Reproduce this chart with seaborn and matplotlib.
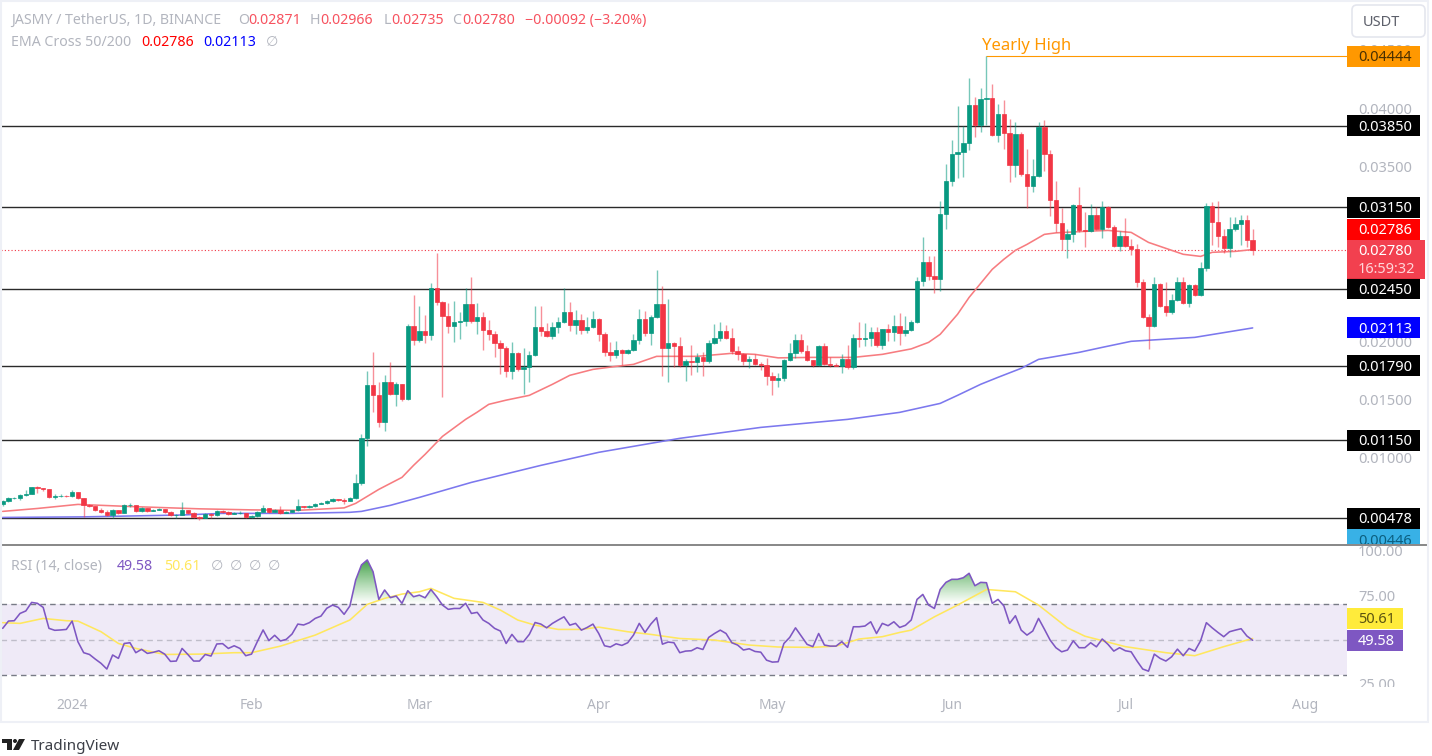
import numpy as np
import pandas as pd
import matplotlib
matplotlib.use("Agg")
import matplotlib.pyplot as plt
from matplotlib.colors import LinearSegmentedColormap
from matplotlib.patches import Rectangle, Circle, Polygon, FancyBboxPatch
from matplotlib.path import Path
from matplotlib.ticker import FormatStrFormatter
from matplotlib.transforms import IdentityTransform, Bbox
import seaborn as sns

WIDTH, HEIGHT = 1432, 756
GREEN = "#089981"
RED = "#f23645"
SOFT_RED = "#f7525f"
GREY = "#b2b5be"
PURPLE = "#7e57c2"
YELLOW = "#ffe75e"
ORANGE = "#ff9800"

start_date = "2023-12-20"
first_open = 0.00598

close = [
    0.00624, 0.00650, 0.00654, 0.00676, 0.00684, 0.00744, 0.00740, 0.00727, 0.00658, 0.00667,
    0.00671, 0.00667, 0.00701, 0.00650, 0.00590, 0.00581, 0.00547, 0.00530, 0.00504, 0.00547,
    0.00521, 0.00590, 0.00594, 0.00538, 0.00564, 0.00538, 0.00547, 0.00555, 0.00530, 0.00504,
    0.00504, 0.00547, 0.00521, 0.00487, 0.00482, 0.00513, 0.00504, 0.00538, 0.00534, 0.00513,
    0.00525, 0.00525, 0.00487, 0.00495, 0.00530, 0.00564, 0.00530, 0.00547, 0.00521, 0.00534,
    0.00547, 0.00581, 0.00573, 0.00581, 0.00598, 0.00607, 0.00624, 0.00641, 0.00633, 0.00624,
    0.00650, 0.00779, 0.01165, 0.01620, 0.01534, 0.01302, 0.01646, 0.01543, 0.01629, 0.01500,
    0.02126, 0.02006, 0.02084, 0.02049, 0.02453, 0.02332, 0.02212, 0.02126, 0.02161, 0.02169,
    0.02315, 0.02169, 0.02204, 0.02092, 0.02058, 0.01981, 0.01938, 0.01740, 0.01895, 0.01757,
    0.01775, 0.01878, 0.02118, 0.02084, 0.02041, 0.02118, 0.02161, 0.02247, 0.02135, 0.02178,
    0.02092, 0.02118, 0.02187, 0.02058, 0.01903, 0.01878, 0.01921, 0.01895, 0.01921, 0.02006,
    0.02187, 0.02066, 0.02204, 0.02315, 0.01938, 0.01981, 0.01955, 0.01792, 0.01826, 0.01817,
    0.01860, 0.01826, 0.01981, 0.02023, 0.02084, 0.02023, 0.01912, 0.01886, 0.01826, 0.01843,
    0.01800, 0.01792, 0.01697, 0.01663, 0.01680, 0.01834, 0.01895, 0.02006, 0.01912, 0.01834,
    0.01792, 0.01955, 0.01800, 0.01792, 0.01787, 0.01843, 0.01775, 0.02023, 0.02019, 0.02023,
    0.02075, 0.01963, 0.02101, 0.02075, 0.02126, 0.02066, 0.02092, 0.02161, 0.02513, 0.02676,
    0.02556, 0.02530, 0.03088, 0.03371, 0.03603, 0.03620, 0.03697, 0.04023, 0.03852, 0.04076,
    0.04085, 0.03768, 0.03948, 0.03785, 0.03512, 0.03777, 0.03431, 0.03328, 0.03414, 0.03835,
    0.03603, 0.03209, 0.03011, 0.02873, 0.02916, 0.03165, 0.02950, 0.02942, 0.03079, 0.02959,
    0.03148, 0.02976, 0.02813, 0.02899, 0.02813, 0.02788, 0.02504, 0.02204, 0.02126, 0.02487,
    0.02298, 0.02247, 0.02350, 0.02504, 0.02324, 0.02478, 0.02393, 0.02624, 0.03157, 0.03019,
    0.02899, 0.02796, 0.02959, 0.03002, 0.03036, 0.02871, 0.02780,
]
high = [
    0.00633, 0.00658, 0.00658, 0.00684, 0.00718, 0.00744, 0.00753, 0.00736, 0.00727, 0.00684,
    0.00684, 0.00676, 0.00718, 0.00701, 0.00650, 0.00598, 0.00581, 0.00564, 0.00547, 0.00555,
    0.00547, 0.00598, 0.00607, 0.00590, 0.00573, 0.00564, 0.00555, 0.00564, 0.00555, 0.00538,
    0.00513, 0.00616, 0.00547, 0.00530, 0.00495, 0.00521, 0.00521, 0.00547, 0.00547, 0.00538,
    0.00530, 0.00538, 0.00521, 0.00504, 0.00538, 0.00590, 0.00564, 0.00555, 0.00581, 0.00538,
    0.00551, 0.00641, 0.00581, 0.00590, 0.00607, 0.00615, 0.00633, 0.00650, 0.00641, 0.00650,
    0.00658, 0.00856, 0.01199, 0.01740, 0.01903, 0.01646, 0.01706, 0.01817, 0.01646, 0.01629,
    0.02144, 0.02393, 0.02298, 0.02221, 0.02496, 0.02753, 0.02341, 0.02324, 0.02341, 0.02247,
    0.02453, 0.02547, 0.02324, 0.02247, 0.02178, 0.02084, 0.02006, 0.01955, 0.01989, 0.01903,
    0.01938, 0.01912, 0.02298, 0.02298, 0.02152, 0.02161, 0.02204, 0.02453, 0.02332, 0.02264,
    0.02230, 0.02204, 0.02255, 0.02195, 0.02075, 0.01989, 0.01998, 0.01929, 0.01929, 0.02058,
    0.02272, 0.02255, 0.02221, 0.02607, 0.02470, 0.02358, 0.01989, 0.02032, 0.01843, 0.01963,
    0.01895, 0.01903, 0.02006, 0.02144, 0.02161, 0.02135, 0.02109, 0.01955, 0.01895, 0.01869,
    0.01886, 0.01817, 0.01852, 0.01732, 0.01723, 0.01843, 0.01981, 0.02058, 0.02058, 0.01963,
    0.01834, 0.01963, 0.01981, 0.01860, 0.01809, 0.01886, 0.01963, 0.02058, 0.02161, 0.02152,
    0.02118, 0.02118, 0.02101, 0.02144, 0.02221, 0.02238, 0.02212, 0.02178, 0.02547, 0.02890,
    0.02727, 0.02727, 0.03199, 0.03517, 0.03723, 0.04015, 0.03843, 0.04255, 0.04092, 0.04169,
    0.04444, 0.04204, 0.04032, 0.04066, 0.03904, 0.03878, 0.03792, 0.03646, 0.03560, 0.03878,
    0.03895, 0.03637, 0.03371, 0.03139, 0.02959, 0.03174, 0.03320, 0.03105, 0.03174, 0.03148,
    0.03199, 0.03157, 0.02993, 0.02942, 0.03053, 0.02873, 0.02830, 0.02530, 0.02230, 0.02547,
    0.02496, 0.02504, 0.02401, 0.02547, 0.02547, 0.02487, 0.02487, 0.02676, 0.03182, 0.03191,
    0.03199, 0.02959, 0.03062, 0.03062, 0.03079, 0.03079, 0.02966,
]
low = [
    0.00581, 0.00615, 0.00641, 0.00633, 0.00667, 0.00684, 0.00693, 0.00710, 0.00650, 0.00641,
    0.00658, 0.00658, 0.00658, 0.00641, 0.00487, 0.00573, 0.00538, 0.00521, 0.00495, 0.00478,
    0.00513, 0.00521, 0.00573, 0.00530, 0.00530, 0.00530, 0.00538, 0.00547, 0.00521, 0.00495,
    0.00478, 0.00504, 0.00513, 0.00478, 0.00460, 0.00478, 0.00478, 0.00495, 0.00521, 0.00504,
    0.00513, 0.00513, 0.00478, 0.00478, 0.00487, 0.00530, 0.00521, 0.00530, 0.00513, 0.00525,
    0.00530, 0.00538, 0.00564, 0.00564, 0.00573, 0.00598, 0.00598, 0.00615, 0.00624, 0.00598,
    0.00624, 0.00641, 0.00761, 0.01096, 0.01388, 0.01259, 0.01225, 0.01534, 0.01440, 0.01483,
    0.01491, 0.01963, 0.01989, 0.01981, 0.02006, 0.02307, 0.01517, 0.02066, 0.01989, 0.02015,
    0.02126, 0.02152, 0.02058, 0.01921, 0.02006, 0.01860, 0.01714, 0.01689, 0.01671, 0.01740,
    0.01543, 0.01646, 0.01869, 0.02041, 0.02032, 0.02015, 0.02066, 0.02152, 0.02084, 0.02058,
    0.02058, 0.02066, 0.02109, 0.01998, 0.01869, 0.01826, 0.01852, 0.01792, 0.01886, 0.01912,
    0.01972, 0.02041, 0.01963, 0.02195, 0.01697, 0.01646, 0.01775, 0.01775, 0.01654, 0.01706,
    0.01732, 0.01697, 0.01809, 0.01972, 0.01998, 0.02015, 0.01886, 0.01834, 0.01792, 0.01766,
    0.01792, 0.01749, 0.01620, 0.01534, 0.01603, 0.01654, 0.01826, 0.01852, 0.01895, 0.01826,
    0.01775, 0.01783, 0.01792, 0.01775, 0.01783, 0.01723, 0.01757, 0.01757, 0.01946, 0.01955,
    0.01955, 0.01946, 0.01929, 0.01998, 0.01998, 0.01963, 0.02041, 0.02084, 0.02152, 0.02470,
    0.02522, 0.02410, 0.02427, 0.02959, 0.03328, 0.03397, 0.03405, 0.03637, 0.03749, 0.03792,
    0.03852, 0.03758, 0.03706, 0.03646, 0.03363, 0.03405, 0.03414, 0.03139, 0.03277, 0.03405,
    0.03457, 0.03071, 0.02933, 0.02779, 0.02710, 0.02847, 0.02933, 0.02804, 0.02933, 0.02950,
    0.02882, 0.02967, 0.02804, 0.02770, 0.02804, 0.02736, 0.02461, 0.02195, 0.01929, 0.02118,
    0.02289, 0.02212, 0.02230, 0.02341, 0.02315, 0.02289, 0.02384, 0.02384, 0.02599, 0.02821,
    0.02804, 0.02753, 0.02719, 0.02942, 0.02821, 0.02804, 0.02735,
]

ema50_days = [0, 6, 13, 22, 34, 43, 51, 59, 61, 65, 69, 71, 73, 76, 78, 80, 82, 84, 87, 91, 95, 98, 102,
              106, 109, 113, 120, 126, 130, 134, 140, 147, 152, 157, 160, 162, 165, 167, 170, 171, 173,
              175, 177, 180, 182, 187, 191, 195, 198, 201, 204, 207, 209, 213, 216]
ema50 = [0.00538, 0.00563, 0.00598, 0.00580, 0.00560, 0.00551, 0.00547, 0.00568, 0.00607, 0.00727,
         0.00830, 0.00933, 0.01028, 0.01182, 0.01255, 0.01328, 0.01390, 0.01457, 0.01493, 0.01534,
         0.01629, 0.01706, 0.01757, 0.01783, 0.01800, 0.01869, 0.01869, 0.01895, 0.01886, 0.01856,
         0.01860, 0.01860, 0.01886, 0.01933, 0.01989, 0.02058, 0.02230, 0.02375, 0.02556, 0.02616,
         0.02702, 0.02779, 0.02830, 0.02916, 0.02929, 0.02942, 0.02950, 0.02933, 0.02847, 0.02796,
         0.02745, 0.02727, 0.02762, 0.02770, 0.02786]
ema200_days = [0, 14, 31, 38, 50, 60, 62, 67, 72, 81, 93, 103, 117, 131, 146, 155, 162, 165, 169, 172,
               176, 179, 183, 186, 190, 195, 206, 216]
ema200 = [0.00486, 0.00491, 0.00507, 0.00521, 0.00521, 0.00530, 0.00538, 0.00590, 0.00658, 0.00787,
          0.00933, 0.01045, 0.01165, 0.01259, 0.01328, 0.01388, 0.01465, 0.01534, 0.01629, 0.01689,
          0.01766, 0.01843, 0.01877, 0.01903, 0.01946, 0.01998, 0.02032, 0.02113]

levels = [0.0385, 0.0315, 0.0245, 0.0179, 0.0115, 0.00478]
yearly_high = 0.04444
yearly_high_day = 170
last_price = 0.0278
price_ticks = [0.01, 0.015, 0.02, 0.035, 0.04, 0.045]

rsi = [
    56.3, 60.4, 60.6, 64.7, 66.1, 70.9, 70.4, 68.1, 56.3, 55.2,
    55.4, 55.7, 60.4, 48.8, 42.6, 41.6, 39.0, 36.6, 33.4, 41.3,
    39.4, 47.8, 48.2, 42.6, 44.5, 42.2, 42.8, 43.7, 41.8, 37.7,
    37.9, 45.0, 41.6, 37.9, 37.9, 41.6, 40.7, 47.5, 47.7, 45.0,
    46.5, 45.0, 40.9, 41.8, 48.8, 55.4, 49.4, 52.4, 49.2, 50.1,
    53.1, 58.7, 58.2, 59.5, 61.9, 63.2, 67.6, 69.4, 68.1, 64.2,
    68.9, 83.5, 92.0, 94.8, 88.2, 72.6, 77.9, 73.6, 74.5, 70.4,
    77.5, 74.1, 75.0, 73.5, 78.2, 74.1, 69.4, 67.0, 67.5, 67.5,
    70.4, 64.7, 65.3, 61.0, 59.1, 56.3, 54.8, 47.8, 52.9, 48.8,
    48.8, 52.9, 59.6, 58.7, 56.6, 59.1, 61.0, 62.8, 58.1, 59.1,
    55.3, 56.8, 58.7, 53.4, 46.5, 45.8, 47.6, 46.7, 48.2, 52.5,
    59.1, 54.0, 58.7, 62.3, 47.4, 48.6, 48.2, 42.6, 43.5, 43.7,
    45.4, 44.4, 51.2, 53.4, 55.3, 53.4, 48.2, 46.9, 44.1, 44.8,
    43.3, 42.9, 38.4, 37.3, 37.5, 47.8, 51.2, 56.6, 51.9, 47.3,
    46.0, 53.4, 46.9, 46.3, 46.3, 48.8, 45.6, 57.2, 57.2, 57.6,
    60.0, 53.4, 59.1, 57.8, 60.0, 56.8, 58.0, 61.0, 72.6, 75.4,
    69.4, 67.5, 78.2, 82.2, 83.9, 83.9, 84.8, 87.3, 80.3, 82.2,
    82.0, 70.4, 72.6, 69.0, 59.1, 63.4, 55.3, 52.5, 54.8, 61.9,
    55.9, 49.7, 45.4, 43.1, 44.1, 49.3, 45.4, 45.4, 48.2, 45.9,
    50.3, 47.3, 43.5, 45.4, 43.7, 43.1, 38.0, 33.4, 32.2, 41.8,
    39.4, 37.9, 40.3, 44.6, 40.9, 45.0, 43.5, 49.3, 59.5, 56.6,
    54.0, 51.6, 54.4, 55.3, 56.1, 52.0, 49.58,
]
rsi_ma_days = [0, 3, 7, 11, 13, 17, 20, 23, 28, 34, 40, 43, 48, 54, 58, 60, 63, 66, 69, 72, 74, 76,
               78, 83, 86, 89, 92, 96, 100, 103, 108, 112, 117, 123, 129, 134, 140, 144, 148, 152,
               155, 157, 161, 165, 170, 175, 179, 184, 187, 194, 201, 206, 211, 216]
rsi_ma = [59.5, 59.1, 61.9, 60.6, 60.4, 54.4, 47.8, 45.0, 41.6, 41.8, 42.6, 42.6, 46.3, 52.5, 58.2,
          61.0, 69.8, 73.2, 75.6, 76.9, 78.8, 76.0, 73.2, 70.9, 66.6, 61.0, 58.1, 55.7, 55.7, 57.0,
          54.4, 52.9, 50.6, 49.7, 46.9, 45.8, 45.6, 46.3, 50.3, 51.6, 54.0, 55.3, 62.8, 69.4, 78.2,
          76.9, 69.4, 56.6, 51.9, 46.0, 42.6, 40.9, 46.0, 50.61]
rsi_ticks = [25, 75, 100]

month_labels = ["2024", "Feb", "Mar", "Apr", "May", "Jun", "Jul", "Aug"]
month_dates = ["2024-01-01", "2024-02-01", "2024-03-01", "2024-04-01",
               "2024-05-01", "2024-06-01", "2024-07-01", "2024-08-01"]

sns.set_theme(style="white")
plt.rcParams["font.family"] = ["Noto Sans", "DejaVu Sans"]

df = pd.DataFrame({"close": close, "high": high, "low": low, "rsi": rsi})
df["open"] = df["close"].shift(1).fillna(first_open)
df["date"] = pd.date_range(start_date, periods=len(df), freq="D")
df["day"] = (df["date"] - df["date"].iloc[0]).dt.days
df["high"] = df[["high", "open", "close"]].max(axis=1)
df["low"] = df[["low", "open", "close"]].min(axis=1)
df["color"] = np.where(df["close"] >= df["open"], GREEN, RED)


def box(left, top, right, bottom):
    # pixel box, measured from the top left, to figure fractions
    return [left / WIDTH, 1 - bottom / HEIGHT, (right - left) / WIDTH, (bottom - top) / HEIGHT]


fig = plt.figure(figsize=(WIDTH / 100, HEIGHT / 100), dpi=100, facecolor="white")
ax = fig.add_axes(box(1, 2, 1347, 545))
ax_rsi = fig.add_axes(box(1, 547, 1347, 690))

x_limits = (-0.29, 232.3)
ax.set_xlim(x_limits)
ax.set_ylim(0.04 - (545 - 108.1) / 11649, 0.04 + (108.1 - 2) / 11649)
ax_rsi.set_xlim(x_limits)
ax_rsi.set_ylim(21.6, 102.1)

# main pane
for level in levels:
    ax.axhline(level, color="#2a2a2a", linewidth=1.0, zorder=1.5)
ax.hlines(yearly_high, yearly_high_day, x_limits[1], color=ORANGE, linewidth=0.8, zorder=1.5)
ax.axhline(last_price, color=RED, linewidth=0.8, linestyle=(0, (1, 2)), zorder=1.5)

sns.lineplot(x=ema50_days, y=ema50, ax=ax, color="#f77c80", linewidth=1.15, estimator=None, zorder=2)
sns.lineplot(x=ema200_days, y=ema200, ax=ax, color="#7c78ee", linewidth=1.15, estimator=None, zorder=2)

ax.vlines(df["day"], df["low"], df["high"], colors=df["color"], linewidth=1.0, alpha=0.55, zorder=3)
ax.bar(df["day"], df["close"] - df["open"], bottom=df["open"], width=0.76,
       color=df["color"], edgecolor=df["color"], linewidth=0.5, zorder=4)

ax.yaxis.tick_right()
ax.set_yticks(price_ticks)
ax.yaxis.set_major_formatter(FormatStrFormatter("%.5f"))
ax.tick_params(axis="y", length=0, pad=8, labelsize=10.5, labelcolor=GREY)
ax.set_xticks([])
ax.annotate("Yearly High", (yearly_high_day, yearly_high), xytext=(-4, 2), textcoords="offset pixels",
            color=ORANGE, fontsize=12, ha="left", va="bottom")

# rsi pane
ax_rsi.axhspan(30, 70, color=PURPLE, alpha=0.12, linewidth=0, zorder=1)
for value, strength in [(70, 1.0), (30, 1.0), (50, 0.4)]:
    ax_rsi.axhline(value, color="#787b86", alpha=strength, linewidth=1.0,
                   linestyle=(0, (4, 3)), zorder=1.5)

green_fade = LinearSegmentedColormap.from_list(
    "fade", [(0.3, 0.69, 0.31, 0.0), (0.22, 0.6, 0.25, 0.95)])
above = ax_rsi.fill_between(df["day"], 70, df["rsi"], where=df["rsi"] > 70,
                            interpolate=True, facecolor="none", linewidth=0)
fade = ax_rsi.imshow(np.linspace(1, 0, 64).reshape(-1, 1), cmap=green_fade, aspect="auto",
                     extent=(x_limits[0], x_limits[1], 70, 95), zorder=1.8)
fade.set_clip_path(Path.make_compound_path(*above.get_paths()), ax_rsi.transData)
ax_rsi.set_xlim(x_limits)
ax_rsi.set_ylim(21.6, 102.1)

sns.lineplot(x=rsi_ma_days, y=rsi_ma, ax=ax_rsi, color=YELLOW, linewidth=1.15, estimator=None, zorder=2)
sns.lineplot(x="day", y="rsi", data=df, ax=ax_rsi, color=PURPLE, linewidth=1.15, estimator=None, zorder=3)

ax_rsi.yaxis.tick_right()
ax_rsi.set_yticks(rsi_ticks)
ax_rsi.yaxis.set_major_formatter(FormatStrFormatter("%.2f"))
ax_rsi.tick_params(axis="y", length=0, pad=8, labelsize=10.5, labelcolor=GREY)
month_days = (pd.to_datetime(month_dates) - df["date"].iloc[0]).days
ax_rsi.set_xticks(month_days)
ax_rsi.set_xticklabels(month_labels)
ax_rsi.tick_params(axis="x", length=0, pad=6, labelsize=10, labelcolor=GREY)
ax_rsi.get_xticklabels()[0].set_fontweight("bold")

for a in (ax, ax_rsi):
    a.set_xlabel("")
    a.set_ylabel("")
    a.set_facecolor("none")
    sns.despine(ax=a, left=True, bottom=True, right=True, top=True)

fig.canvas.draw()
ident = IdentityTransform()


def px_text(x, y, s, color, **kw):
    return fig.text(x, HEIGHT - y - 1.5, s, color=color, transform=ident, va="center", **kw)


def px_rect(left, top, right, bottom, **kw):
    patch = Rectangle((left, HEIGHT - bottom), right - left, bottom - top, transform=ident, **kw)
    fig.add_artist(patch)
    return patch


def tag(axis, value, label, face, ink="white", shift=0, right=1420, height=21):
    # price tag on the axis, placed through the pane's own scale
    y = HEIGHT - axis.transData.transform((0, value))[1] + shift
    px_rect(1347, y - height / 2, right, y + height / 2, facecolor=face, edgecolor="none", zorder=5)
    return px_text(1358, y, label, ink, fontsize=10.5, zorder=6)


# covers the cut-off bottom of the last rsi tick
px_rect(1347, 687, 1425, 696, facecolor="white", edgecolor="none", zorder=4)

for level in levels:
    tag(ax, level, f"{level:.5f}", "#000000")
tag(ax, yearly_high, "0.04444", ORANGE, ink="#4a3000")
tag(ax, ema50[-1], "0.02786", "#ff0000", shift=-20.5)
tag(ax, ema200[-1], "0.02113", "#0000ff")
y_last = HEIGHT - ax.transData.transform((0, last_price))[1]
px_rect(1347, y_last - 10.5, 1425, y_last + 28.5, facecolor=RED, edgecolor="none", alpha=0.95, zorder=5)
px_text(1358, y_last, "0.02780", "white", fontsize=10.5, zorder=6)
px_text(1358, y_last + 18, "16:59:32", "#ffd5d9", fontsize=10.5, zorder=6)
px_rect(1347, 529, 1420, 545, facecolor="#38b1e6", edgecolor="none", zorder=5)
low_tag = px_text(1358, 540, "0.00446", "#0b5f80", fontsize=10.5, zorder=6)
low_tag.set_clip_box(Bbox([[1347, HEIGHT - 545], [1420, HEIGHT - 529]]))
low_tag.set_clip_on(True)
tag(ax_rsi, rsi_ma[-1], "50.61", "#ffeb3b", ink="#5c5410", shift=-20, right=1403)
tag(ax_rsi, rsi[-1], "49.58", PURPLE, shift=0, right=1403)

# pane separator and chart frame
px_rect(1, 544, 1428, 546, facecolor="#8a8a8a", edgecolor="none", zorder=7)
px_rect(0.5, 0.5, 1428, 722, facecolor="none", edgecolor="#eef0f6", linewidth=1.5, zorder=7)

# legends
header = [(11, "JASMY / TetherUS, 1D, BINANCE", GREY), (238, "O", GREY), (248, "0.02871", SOFT_RED),
          (310, "H", GREY), (320, "0.02966", SOFT_RED), (384, "L", GREY), (391, "0.02735", SOFT_RED),
          (452, "C", GREY), (462, "0.02780", SOFT_RED), (525, "\u22120.00092 (\u22123.20%)", SOFT_RED)]
for x, s, c in header:
    px_text(x, 19, s, c, fontsize=10.2)
for x, s, c in [(11, "EMA Cross 50/200", GREY), (141, "0.02786", "#ff0000"),
                (203, "0.02113", "#0000ff"), (266, "\u2205", GREY)]:
    px_text(x, 41, s, c, fontsize=10.2)
for x, s, c in [(11, "RSI (14, close)", GREY), (117, "49.58", PURPLE), (164, "50.61", YELLOW),
                (211, "\u2205", GREY), (230, "\u2205", GREY), (249, "\u2205", GREY), (268, "\u2205", GREY)]:
    px_text(x, 565, s, c, fontsize=10.2)

# currency button
fig.add_artist(FancyBboxPatch((1352, HEIGHT - 37), 73, 32, boxstyle="round,pad=0,rounding_size=5",
                              transform=ident, facecolor="white", edgecolor="#e4e6ee", linewidth=1.2,
                              mutation_aspect=1, zorder=5))
px_text(1363, 21, "USDT", "#5d606b", fontsize=10.5, zorder=6)

# tradingview mark
logo = "#222222"
px_rect(2, 739, 12, 743, facecolor=logo, edgecolor="none")
px_rect(7, 739, 12, 750, facecolor=logo, edgecolor="none")
fig.add_artist(Circle((15, HEIGHT - 741), 2, transform=ident, facecolor=logo, edgecolor="none"))
fig.add_artist(Polygon([(19, HEIGHT - 739), (25, HEIGHT - 739), (19, HEIGHT - 750), (13, HEIGHT - 750)],
                       transform=ident, facecolor=logo, edgecolor="none"))
px_text(31, 745, "TradingView", "#3c3f47", fontsize=11)

fig.savefig("out.png", dpi=100, facecolor="white")
